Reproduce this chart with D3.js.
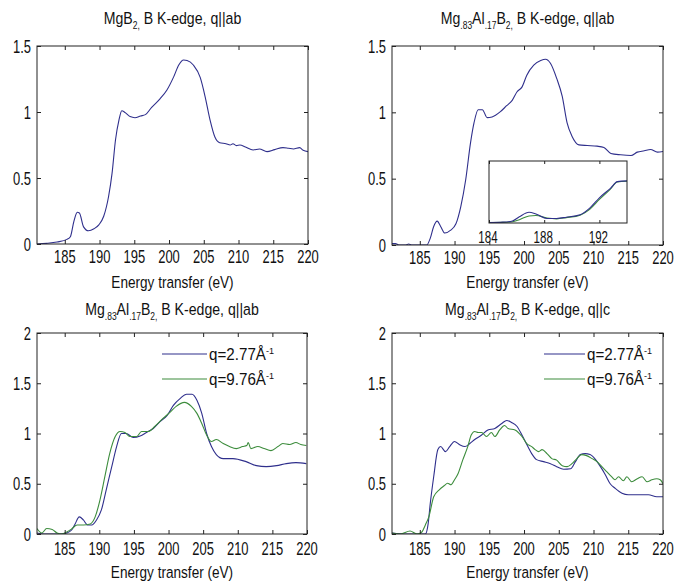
<!DOCTYPE html>
<html>
<head>
<meta charset="utf-8">
<script src="https://cdn.jsdelivr.net/npm/d3@7"></script>
<style>
  html, body { margin: 0; padding: 0; background: #fff; }
  svg { display: block; }
</style>
</head>
<body>
<div id="chart"></div>
<script>
// ---------------- DATA ----------------
const xTicks = [185, 190, 195, 200, 205, 210, 215, 220];
const yTicksTop = [0, 0.5, 1, 1.5];
const yTicksBottom = [0, 0.5, 1, 1.5, 2];
const insetTicks = [184, 188, 192];

// MgB2, q||ab  [energy (eV), intensity]
const mgb2Ab = [[181.0,0.0],[182.4,0.005],[183.9,0.015],[185.3,0.035],[185.8,0.055],[186.3,0.17],[186.8,0.24],[187.1,0.235],[187.7,0.13],[188.4,0.10],[189.2,0.115],[189.9,0.145],[190.6,0.21],[191.3,0.36],[191.8,0.535],[192.3,0.79],[192.8,0.94],[193.2,1.01],[193.7,0.995],[194.4,0.965],[195.1,0.957],[195.9,0.97],[196.6,0.98],[197.5,1.035],[198.7,1.10],[199.7,1.167],[200.7,1.27],[201.4,1.356],[202.1,1.394],[202.6,1.39],[203.5,1.356],[204.5,1.26],[205.2,1.115],[205.9,0.94],[206.6,0.81],[207.3,0.767],[208.2,0.76],[208.8,0.75],[209.2,0.76],[209.7,0.745],[210.2,0.75],[211.0,0.735],[212.1,0.712],[213.0,0.72],[214.1,0.70],[215.2,0.715],[216.4,0.73],[217.2,0.725],[217.9,0.72],[218.8,0.73],[219.3,0.71],[220.0,0.70]];

// Mg.83Al.17B2, q||ab (main curve of upper right panel)
const alAb = [[181,0.01],[181.5,0.01],[182,0],[183,0],[183.4,0.008],[183.8,0],[184.6,0],[186.0,0],[186.5,0.05],[187.0,0.14],[187.5,0.18],[188.0,0.14],[188.6,0.09],[189.4,0.11],[190.2,0.16],[190.9,0.29],[191.6,0.49],[192.3,0.77],[192.8,0.92],[193.4,1.02],[194.0,1.02],[194.7,0.96],[195.4,0.965],[196.6,1.005],[197.5,1.05],[198.3,1.09],[199.0,1.155],[199.7,1.19],[200.4,1.28],[201.4,1.356],[202.4,1.39],[203.1,1.40],[203.8,1.37],[204.7,1.256],[205.5,1.12],[206.2,0.92],[206.9,0.82],[207.9,0.755],[209.1,0.75],[210.5,0.745],[211.5,0.735],[212.5,0.69],[213.9,0.68],[215.4,0.675],[216.3,0.70],[217.3,0.71],[218.2,0.72],[219.2,0.70],[220.0,0.705]];

// inset curves
const insetBlue = [[184.0,0.01],[185.0,0.02],[185.7,0.05],[186.2,0.15],[186.9,0.26],[187.4,0.22],[188.2,0.11],[188.9,0.11],[189.6,0.14],[190.6,0.2],[191.3,0.36],[192.0,0.61],[192.8,0.84],[193.3,1.0],[194.0,1.02]];
const insetGreen = [[184.0,0.01],[185.0,0.015],[185.7,0.03],[186.2,0.08],[186.9,0.17],[187.4,0.18],[188.2,0.12],[188.9,0.10],[189.6,0.13],[190.6,0.19],[191.3,0.33],[192.0,0.57],[192.8,0.82],[193.3,0.99],[194.0,1.01]];

// Mg.83Al.17B2, q||ab, two momentum transfers
const abLowQ = [[181.0,0.01],[182.0,0],[184.4,0],[185.3,0.01],[186.0,0.04],[186.5,0.1],[187.1,0.17],[187.7,0.14],[188.3,0.09],[188.9,0.09],[189.6,0.14],[190.3,0.24],[191.0,0.44],[191.8,0.67],[192.5,0.87],[193.2,1.0],[193.9,1.0],[194.9,0.96],[195.9,0.975],[196.8,1.01],[197.8,1.05],[198.8,1.12],[199.8,1.18],[200.7,1.28],[201.7,1.35],[202.6,1.39],[203.4,1.39],[204.1,1.33],[204.8,1.2],[205.5,1.0],[206.2,0.87],[206.9,0.79],[207.9,0.75],[209.3,0.75],[211.2,0.72],[212.7,0.68],[214.1,0.67],[215.6,0.68],[217.0,0.70],[218.4,0.71],[219.9,0.70]];
const abHighQ = [[181.0,0.055],[181.7,0.01],[182.4,0.055],[183.2,0.045],[183.9,0.01],[184.6,0],[185.3,0.02],[186.0,0.05],[186.8,0.09],[187.7,0.09],[188.7,0.1],[189.4,0.17],[190.1,0.34],[190.8,0.57],[191.5,0.80],[192.3,0.97],[193.0,1.02],[193.7,1.01],[194.4,0.97],[195.4,0.97],[196.1,1.02],[197.1,1.02],[198.0,1.07],[199.2,1.15],[200.2,1.21],[201.1,1.27],[202.3,1.31],[203.3,1.27],[204.1,1.2],[204.8,1.1],[205.5,0.985],[206.2,0.92],[206.9,0.94],[207.9,0.9],[208.8,0.87],[209.8,0.85],[210.7,0.87],[211.3,0.88],[211.5,0.91],[211.9,0.85],[212.9,0.87],[213.8,0.85],[214.8,0.83],[215.8,0.87],[216.5,0.9],[217.5,0.89],[218.4,0.91],[219.1,0.89],[219.9,0.88]];

// Mg.83Al.17B2, q||c, two momentum transfers
const cLowQ = [[181,0.01],[183.2,0],[185.1,0],[185.8,0],[186.2,0.1],[186.5,0.3],[187.0,0.57],[187.6,0.84],[188.0,0.87],[188.7,0.82],[189.3,0.87],[190.0,0.92],[190.7,0.89],[191.5,0.87],[192.2,0.9],[192.9,0.94],[193.9,0.985],[194.8,1.035],[195.8,1.05],[196.8,1.1],[197.5,1.13],[198.2,1.11],[199.0,1.07],[199.7,0.985],[200.4,0.89],[201.1,0.8],[201.8,0.74],[202.8,0.72],[203.8,0.7],[204.7,0.67],[205.7,0.645],[206.7,0.65],[207.4,0.72],[208.1,0.79],[208.8,0.8],[209.5,0.79],[210.3,0.74],[211.0,0.67],[211.7,0.59],[212.4,0.5],[213.1,0.455],[214.1,0.405],[215.0,0.39],[216.5,0.39],[217.9,0.39],[219.1,0.37],[220.0,0.37]];
const cHighQ = [[181,0.01],[182.2,0.0],[183.6,0.03],[184.6,0],[185.3,0.02],[185.8,0.09],[186.3,0.17],[187.0,0.37],[187.8,0.44],[188.5,0.48],[189.0,0.505],[189.5,0.49],[190.0,0.54],[190.5,0.6],[191.2,0.74],[191.9,0.87],[192.4,0.985],[192.9,1.02],[193.4,1.01],[193.9,1.01],[194.6,0.97],[195.3,1.01],[195.8,0.97],[196.5,1.035],[197.2,1.08],[197.7,1.05],[198.7,1.035],[199.7,0.97],[200.4,0.9],[201.1,0.87],[201.6,0.84],[202.1,0.82],[202.6,0.84],[203.3,0.8],[204.0,0.75],[204.7,0.735],[205.5,0.68],[206.2,0.67],[206.9,0.7],[207.6,0.75],[208.3,0.79],[209.0,0.78],[209.8,0.75],[210.5,0.72],[211.2,0.67],[211.9,0.62],[212.6,0.57],[213.1,0.54],[213.6,0.57],[214.3,0.53],[214.8,0.57],[215.5,0.52],[216.3,0.55],[217.0,0.57],[217.7,0.52],[218.4,0.54],[219.1,0.55],[219.6,0.54],[220.0,0.5]];

const legendLabels = ["q=2.77Å", "q=9.76Å"];

// ---------------- DRAWING ----------------
const W = 685, H = 587;
const FONT = "'Liberation Sans', Arial, Helvetica, sans-serif";
const BLUE = "#2f2f8c", GREEN = "#3c8c3c", FRAME = "#222";

const svg = d3.select("#chart").append("svg")
  .attr("width", W).attr("height", H)
  .style("background", "#fff");

function scaledText(parent, x, y, anchor, size, sx, parts) {
  const t = parent.append("text")
    .attr("transform", `translate(${x},${y}) scale(${sx},1)`)
    .attr("text-anchor", anchor)
    .attr("font-size", size)
    .attr("font-family", FONT)
    .attr("fill", "#111");
  let shift = 0;
  parts.forEach(([s, kind]) => {
    const target = kind === "sub" ? 5 : kind === "sup" ? -6 : 0;
    const ts = t.append("tspan").text(s).attr("dy", target - shift);
    if (kind) ts.attr("font-size", size * 0.6);
    shift = target;
  });
  return t;
}

const titleAb0 = [["MgB", 0], ["2,", "sub"], [" B K-edge, q||ab", 0]];
const titleAl = (dir) => [["Mg", 0], [".83", "sub"], ["Al", 0], [".17", "sub"], ["B", 0], ["2,", "sub"], [" B K-edge, q||" + dir, 0]];

const panels = [
  { box: [37, 46, 308, 244], yMax: 1.5, yTicks: yTicksTop, title: titleAb0, titleY: 24, tickPad: 6, labelY: 288,
    series: [{ data: mgb2Ab, color: BLUE }] },
  { box: [392, 46, 663, 245], yMax: 1.5, yTicks: yTicksTop, title: titleAl("ab"), titleY: 24, tickPad: 6, labelY: 288,
    series: [{ data: alAb, color: BLUE }], inset: true },
  { box: [37, 333, 307, 534], yMax: 2, yTicks: yTicksBottom, title: titleAl("ab"), titleY: 315, tickPad: 8, labelY: 578,
    series: [{ data: abLowQ, color: BLUE }, { data: abHighQ, color: GREEN }], legend: [162, 207, 354, 379] },
  { box: [392, 333, 663, 534], yMax: 2, yTicks: yTicksBottom, title: titleAl("c"), titleY: 315, tickPad: 8, labelY: 578,
    series: [{ data: cLowQ, color: BLUE }, { data: cHighQ, color: GREEN }], legend: [544, 585, 354, 379] }
];

function drawFrameTicks(g, x, y, x0, y0, x1, y1, xt, yt, tick) {
  // inward ticks on all four sides
  g.append("g").attr("transform", `translate(0,${y1})`)
    .call(d3.axisBottom(x).tickValues(xt).tickSize(-tick).tickFormat(""))
    .call(s => s.select(".domain").remove());
  g.append("g").attr("transform", `translate(0,${y0})`)
    .call(d3.axisTop(x).tickValues(xt).tickSize(-tick).tickFormat(""))
    .call(s => s.select(".domain").remove());
  if (yt) {
    g.append("g").attr("transform", `translate(${x0},0)`)
      .call(d3.axisLeft(y).tickValues(yt).tickSize(-tick).tickFormat(""))
      .call(s => s.select(".domain").remove());
    g.append("g").attr("transform", `translate(${x1},0)`)
      .call(d3.axisRight(y).tickValues(yt).tickSize(-tick).tickFormat(""))
      .call(s => s.select(".domain").remove());
  }
  g.selectAll(".tick line").attr("stroke", FRAME).attr("stroke-width", 1);
  g.append("rect").attr("x", x0).attr("y", y0).attr("width", x1 - x0).attr("height", y1 - y0)
    .attr("fill", "none").attr("stroke", FRAME).attr("stroke-width", 1);
}

panels.forEach((p, i) => {
  const [x0, y0, x1, y1] = p.box;
  const g = svg.append("g");
  const x = d3.scaleLinear().domain([181, 220]).range([x0, x1]);
  const y = d3.scaleLinear().domain([0, p.yMax]).range([y1, y0]);

  const clipId = "clip" + i;
  svg.append("clipPath").attr("id", clipId)
    .append("rect").attr("x", x0).attr("y", y0).attr("width", x1 - x0).attr("height", y1 - y0);

  const line = d3.line().x(d => x(d[0])).y(d => y(d[1])).curve(d3.curveMonotoneX);
  p.series.forEach(s => {
    g.append("path").datum(s.data)
      .attr("clip-path", `url(#${clipId})`)
      .attr("d", line).attr("fill", "none")
      .attr("stroke", s.color).attr("stroke-width", 1.1);
  });

  drawFrameTicks(g, x, y, x0, y0, x1, y1, xTicks, p.yTicks, 4);

  // tick labels
  xTicks.forEach(v => scaledText(g, x(v), y1 + p.tickPad + 13, "middle", 18, 0.72, [[String(v), 0]]));
  p.yTicks.forEach(v => scaledText(g, x0 - 6, y(v) + 6.5, "end", 18, 0.72, [[String(v), 0]]));

  // title & axis label
  scaledText(g, (x0 + x1) / 2, p.titleY, "middle", 17, 0.83, p.title);
  scaledText(g, (x0 + x1) / 2, p.labelY, "middle", 17, 0.8, [["Energy transfer (eV)", 0]]);

  if (p.legend) {
    const [lx0, lx1, ly0, ly1] = p.legend;
    [ly0, ly1].forEach((ly, k) => {
      g.append("line").attr("x1", lx0).attr("x2", lx1).attr("y1", ly).attr("y2", ly)
        .attr("stroke", p.series[k].color).attr("stroke-width", 1.1);
      scaledText(g, lx1 + 2, ly + 6, "start", 16.5, 0.92, [[legendLabels[k], 0], ["-1", "sup"]]);
    });
  }

  if (p.inset) {
    const ib = [489, 161, 627, 223];
    const ix = d3.scaleLinear().domain([184, 194]).range([ib[0], ib[2]]);
    const iy = d3.scaleLinear().domain([0, 1.5]).range([ib[3], ib[1]]);
    const ig = svg.append("g");
    ig.append("rect").attr("x", ib[0]).attr("y", ib[1]).attr("width", ib[2] - ib[0]).attr("height", ib[3] - ib[1])
      .attr("fill", "#fff");
    svg.append("clipPath").attr("id", "clipInset")
      .append("rect").attr("x", ib[0]).attr("y", ib[1]).attr("width", ib[2] - ib[0]).attr("height", ib[3] - ib[1]);
    const il = d3.line().x(d => ix(d[0])).y(d => iy(d[1])).curve(d3.curveMonotoneX);
    [[insetGreen, GREEN], [insetBlue, BLUE]].forEach(([d, c]) => {
      ig.append("path").datum(d).attr("clip-path", "url(#clipInset)")
        .attr("d", il).attr("fill", "none").attr("stroke", c).attr("stroke-width", 1.1);
    });
    drawFrameTicks(ig, ix, iy, ib[0], ib[1], ib[2], ib[3], insetTicks, null, 3);
    insetTicks.forEach(v => scaledText(ig, ix(v) - 1, ib[3] + 20, "middle", 17, 0.68, [[String(v), 0]]));
  }
});
</script>
</body>
</html>
